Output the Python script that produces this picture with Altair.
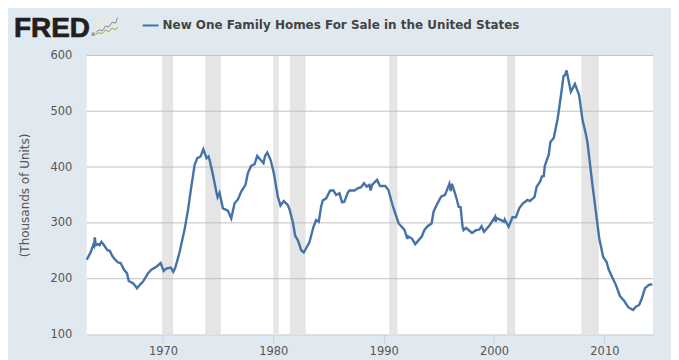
import altair as alt
import pandas as pd

SERIES = "New One Family Homes For Sale in the United States"
points = [
(1963.1,234),(1963.16,236.5),(1963.46,248),(1963.67,260),(1963.75,258),(1963.82,274),(1963.91,260),(1964.12,262),(1964.25,260),(1964.42,266),(1964.66,260),(1964.97,251),(1965.18,250),(1965.4,241),(1965.63,235),(1965.93,229),(1966.17,228),(1966.47,216),(1966.74,210),(1966.9,196),(1967.28,192),(1967.5,187),(1967.65,183),(1967.9,189),(1968.2,195),(1968.65,210),(1968.95,216),(1969.4,221.5),(1969.79,228),(1970.06,214),(1970.3,218),(1970.7,220),(1970.94,212.5),(1971.12,220),(1971.5,247),(1971.75,270),
(1971.96,288),(1972.26,322),(1972.57,365),(1972.87,404),(1973.11,416),(1973.41,419),(1973.66,432),(1973.95,416),(1974.13,419),(1974.26,410),(1974.53,386),(1974.83,356),(1974.95,346),(1975.13,354),(1975.43,326),(1975.88,322),(1976.19,308),(1976.49,335),(1976.79,342),(1977.09,356),(1977.48,368),(1977.69,389),(1977.99,402),(1978.3,405),(1978.54,420),(1978.84,413),(1979.11,407),(1979.25,420),(1979.45,426),(1979.75,413),(1980.05,389),(1980.41,347),(1980.65,331),(1980.95,339),(1981.31,332),(1981.47,324),(1981.76,302),(1981.98,277),
(1982.22,269),(1982.53,251),(1982.76,247),(1983.27,265),(1983.64,293),(1983.88,305),(1984.12,302),(1984.33,329),(1984.48,340),(1984.79,344),(1985.15,358),(1985.45,358),(1985.69,350),(1985.99,353),(1986.23,337),(1986.44,338),(1986.74,354),(1986.9,358),(1987.35,358),(1987.65,362),(1987.95,364),(1988.22,371),(1988.46,365),(1988.7,368),(1988.82,358),(1988.95,368),(1989.4,377),(1989.67,366),(1990.15,366),(1990.43,359),(1990.8,332),(1991.05,317),(1991.36,299),
(1991.87,288),(1992.08,276),(1992.14,271),(1992.2,276),(1992.56,272),(1992.86,262),(1993.47,276),(1993.68,287),(1993.98,294),(1994.34,299),(1994.52,320),(1994.8,332),(1995.2,347),(1995.56,350),(1995.95,370),(1996.07,357),(1996.19,370),(1996.4,357),(1996.6,344),(1996.79,329),(1996.97,328),(1997.15,293),(1997.24,287),(1997.46,291),(1998.0,282),(1998.37,287),(1998.66,288),(1998.87,294),(1999.09,284),(1999.57,295),(2000.1,311),(2000.15,302),(2000.22,309),(2000.62,305),(2000.9,302),(2000.97,306),(2001.32,293),
(2001.67,310),(2001.98,310),(2002.28,326),(2002.58,334),(2003.03,341),(2003.25,339),(2003.66,346),(2003.87,365),(2004.18,374),(2004.33,383),(2004.51,384),(2004.6,402),(2004.96,422),(2005.11,445),(2005.41,452),(2005.77,487),(2006.07,529),(2006.3,563),(2006.45,565),(2006.57,573),(2006.96,535),(2007.33,549),(2007.71,529),(2008.02,484),(2008.31,460),(2008.46,445),(2008.92,368),(2009.38,296),(2009.53,273),(2009.89,239),(2010.2,230),(2010.38,217),(2010.7,203),(2011.04,189),(2011.41,169),(2011.8,160),(2012.16,149),(2012.6,144),(2012.85,150),(2013.15,153),(2013.4,165),(2013.68,183),(2014.04,189),(2014.34,190),
]
years = [p[0] for p in points]
values = [p[1] for p in points]

rec_start = [1969.92,1973.83,1980.0,1981.5,1990.5,2001.17,2007.92]
rec_end = [1970.92,1975.25,1980.5,1982.92,1991.25,2001.92,2009.5]
y_ticks = [100,200,300,400,500,600]
grid_lines = [200,300,400,500,600]
x_ticks = [1970,1980,1990,2000,2010]

icon_x = [0,.15,.3,.45,.6,.75,.9,1]
icon_blue = [.2,.35,.3,.55,.5,.75,.7,1]
icon_green = [.1,.2,.15,.35,.25,.45,.35,.5]

df = pd.DataFrame({"year": years, "value": values, "series": SERIES})
rec = pd.DataFrame({"a": rec_start, "b": rec_end})
grid = pd.DataFrame({"v": grid_lines})
icon = pd.DataFrame({"x": icon_x, "b": icon_blue, "g": icon_green})

xs = alt.Scale(domain=[1963.095, 2014.41], nice=False, zero=False)
ys = alt.Scale(domain=[100, 600], nice=False, zero=False)

recess = alt.Chart(rec).mark_rect(color="#E5E5E5").encode(
    x=alt.X("a:Q", scale=xs, axis=alt.Axis(
        values=x_ticks, format="d", title=None, grid=False, domainColor="#C0D0E0",
        tickColor="#C0D0E0", tickSize=8, labelColor="#555555", labelFontSize=11.5,
        labelFont="DejaVu Sans", labelPadding=3)),
    x2="b:Q",
)
rules = alt.Chart(grid).mark_rule(color="#C0C0C0", strokeWidth=1).encode(
    y=alt.Y("v:Q", scale=ys, axis=alt.Axis(
        values=y_ticks, title="(Thousands of Units)", grid=False, domain=False, ticks=False,
        labelColor="#555555", labelFontSize=11.5, labelFont="DejaVu Sans", labelPadding=15,
        titleColor="#555555", titleFontSize=12, titleFontWeight="normal",
        titleFont="DejaVu Sans", titlePadding=18)),
)
line = alt.Chart(df).mark_line(strokeWidth=2.4).encode(
    x=alt.X("year:Q", scale=xs),
    y=alt.Y("value:Q", scale=ys),
    color=alt.Color("series:N", scale=alt.Scale(domain=[SERIES], range=["#4572A7"]),
        legend=alt.Legend(orient="none", legendX=55, legendY=-39, title=None,
            symbolType="stroke", symbolSize=256, symbolStrokeWidth=2, labelFont="DejaVu Sans",
            labelFontSize=12, labelFontWeight="bold", labelColor="#444444", labelLimit=500,
            labelOffset=3)),
)
main = alt.layer(recess, rules, line)

logo = alt.Chart(pd.DataFrame({"t": ["FRED"]})).mark_text(
    font="Liberation Sans", fontWeight="bold", fontSize=28, align="left", baseline="alphabetic",
    color="#231F20", stroke="#231F20", strokeWidth=0.7).encode(
    x=alt.value(-73), y=alt.value(-18), text="t:N")
reg = alt.Chart(pd.DataFrame({"t": ["®"]})).mark_text(
    font="DejaVu Sans", fontSize=5, align="left", baseline="alphabetic", color="#231F20").encode(
    x=alt.value(4), y=alt.value(-19), text="t:N")

ix = alt.Scale(domain=[0, 1], range=[9, 31])
iy = alt.Scale(domain=[0, 1], range=[-19, -38])
icon_bg = alt.Chart(pd.DataFrame({"a": [0], "b": [1], "c": [0], "d": [1]})).mark_rect(color="#E6EAE2").encode(
    x=alt.X("a:Q", scale=ix, axis=None), x2="b:Q",
    y=alt.Y("c:Q", scale=iy, axis=None), y2="d:Q")
icon_b = alt.Chart(icon).mark_line(color="#6A8BAB", strokeWidth=1).encode(
    x=alt.X("x:Q", scale=ix, axis=None), y=alt.Y("b:Q", scale=iy, axis=None))
icon_g = alt.Chart(icon).mark_line(color="#8BA66E", strokeWidth=1).encode(
    x=alt.X("x:Q", scale=ix, axis=None), y=alt.Y("g:Q", scale=iy, axis=None))
icon_layer = alt.layer(icon_bg, icon_b, icon_g)

chart = alt.layer(main, icon_layer, logo, reg).resolve_scale(
    x="independent", y="independent", color="independent"
).properties(
    width=568, height=280, background="#E1E9F0", autosize=alt.AutoSizeParams(type="none"),
    padding={"left": 79, "top": 47, "right": 18, "bottom": 25},
).configure_view(fill="#FFFFFF", stroke=None)

chart.save("out.html", embed_options={"renderer": "svg", "actions": False})
